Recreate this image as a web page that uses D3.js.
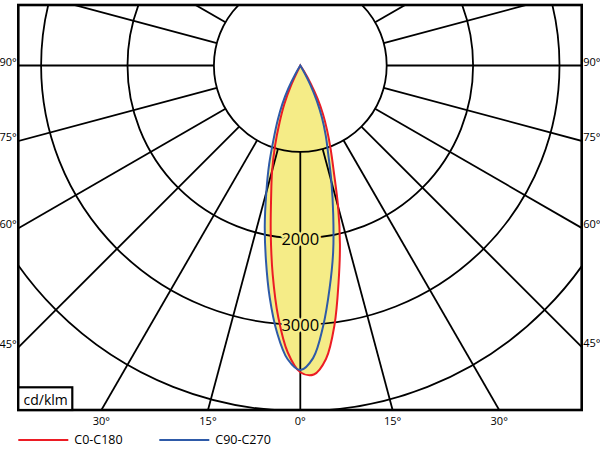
<!DOCTYPE html>
<html><head><meta charset="utf-8">
<script src="https://cdn.jsdelivr.net/npm/d3@7"></script>
<style>
body{margin:0;background:#fff}
svg{display:block}
text{font-family:'Open Sans',sans-serif;fill:#000}
</style>
</head><body>
<svg id="chart" width="600" height="450"></svg>
<script>
// ---- data (angle in degrees from nadir, intensity in cd/klm) ----
const redAngles  = [-27.5,-25,-22.5,-20,-17.5,-15,-12.5,-10,-7.5,-5,-2.5,0,2.5,5,7.5,10,12.5,15,17.5,20,22.5,25,27.5,30,32.5,35];
const redValues  = [0,250,480,700,970,1260,1560,1970,2445,2925,3325,3550,3580,3410,3030,2550,2120,1690,1290,1025,810,620,430,245,80,0];
const blueAngles = [-32.5,-30,-27.5,-25,-22.5,-20,-17.5,-15,-12.5,-10,-7.5,-5,-2.5,0,2.5,5,7.5,10,12.5,15,17.5,20,22.5,25,27.5,30,32.5];
const blueValues = [0,110,300,490,680,900,1200,1520,1900,2290,2710,3100,3400,3525,3390,3030,2600,2190,1760,1390,1075,860,656,455,255,60,0];
const ringValues = [1000,2000,3000,4000];
const ringLabelValues = [2000,3000];
const radialAngles = [0,15,30,45,60,75,90,105,120,135,150,165,180,195,210,225,240,255,270,285,300,315,330,345];
const sideTickAngles = [90,75,60,45];
const sideTickLabels = ["90°","75°","60°","45°"];
const bottomTickAngles = [-30,-15,0,15,30];
const bottomTickLabels = ["30°","15°","0°","15°","30°"];
const seriesNames = ["C0-C180","C90-C270"];
const seriesColors = ["#ec1c24","#2e5aa8"];
const unitLabel = "cd/klm";

// ---- layout ----
const svg = d3.select("#chart");
const box = {x0:18.3, y0:5, x1:581.7, y1:410};
const cx = 300.3, cy = 65.5;
const yellow = "#f5ec87";

const r = d3.scaleLinear().domain([0,1000]).range([0,86.4]);
const ang = d3.scaleLinear().domain([-180,180]).range([2*Math.PI,0]);

svg.append("defs").append("clipPath").attr("id","clip")
  .append("rect").attr("x",box.x0).attr("y",box.y0)
  .attr("width",box.x1-box.x0).attr("height",box.y1-box.y0);

const plot = svg.append("g").attr("clip-path","url(#clip)");
const g = plot.append("g").attr("transform",`translate(${cx},${cy})`);

const line = d3.lineRadial()
  .angle(d=>ang(d[0])).radius(d=>r(d[1]))
  .curve(d3.curveCatmullRom.alpha(0.5));

const series = [d3.zip(redAngles,redValues), d3.zip(blueAngles,blueValues)];

// fills
g.selectAll("path.fill").data(series).join("path")
  .attr("class","fill").attr("d",d=>line(d)+"Z")
  .attr("fill",yellow).attr("stroke","none");

// rings
g.selectAll("circle.ring").data(ringValues).join("circle")
  .attr("class","ring").attr("r",d=>r(d))
  .attr("fill","none").attr("stroke","#000").attr("stroke-width",1.8);

// radial lines
g.selectAll("line.rad").data(radialAngles).join("line")
  .attr("class","rad")
  .each(function(a){
    const p1 = d3.pointRadial(ang(a), r(1000));
    const p2 = d3.pointRadial(ang(a), r(7000));
    d3.select(this).attr("x1",p1[0]).attr("y1",p1[1]).attr("x2",p2[0]).attr("y2",p2[1]);
  })
  .attr("stroke","#000").attr("stroke-width",1.8);

// ring labels
g.selectAll("text.rl").data(ringLabelValues).join("text")
  .attr("class","rl")
  .attr("x",0).attr("y",d=>r(d))
  .attr("text-anchor","middle").attr("dominant-baseline","central")
  .attr("font-size",16.5)
  .attr("stroke",yellow).attr("stroke-width",5).attr("paint-order","stroke")
  .text(d=>d);

// curves
g.selectAll("path.curve").data(series).join("path")
  .attr("class","curve").attr("d",d=>line(d)+"Z")
  .attr("fill","none").attr("stroke",(d,i)=>seriesColors[i]).attr("stroke-width",2);

// frame
svg.append("rect").attr("x",box.x0).attr("y",box.y0)
  .attr("width",box.x1-box.x0).attr("height",box.y1-box.y0)
  .attr("fill","none").attr("stroke","#000").attr("stroke-width",2.6);

// side tick labels
sideTickAngles.forEach((a,i)=>{
  const t = a*Math.PI/180;
  const yl = cy + (cx-box.x0)/Math.sin(t)*Math.cos(t);
  const yr = cy + (box.x1-cx)/Math.sin(t)*Math.cos(t);
  svg.append("text").attr("x",box.x0-1.5).attr("y",yl).attr("text-anchor","end")
    .attr("font-size",11).text(sideTickLabels[i]);
  svg.append("text").attr("x",box.x1+1.5).attr("y",yr).attr("text-anchor","start")
    .attr("font-size",11).text(sideTickLabels[i]);
});

// bottom tick labels
bottomTickAngles.forEach((a,i)=>{
  const x = cx + Math.tan(a*Math.PI/180)*(box.y1-cy);
  svg.append("text").attr("x",x).attr("y",box.y1+15).attr("text-anchor","middle")
    .attr("font-size",11).text(bottomTickLabels[i]);
});

// unit box
svg.append("rect").attr("x",box.x0).attr("y",387.3).attr("width",54).attr("height",box.y1-387.3)
  .attr("fill","#fff").attr("stroke","#000").attr("stroke-width",2.2);
svg.append("text").attr("x",23.5).attr("y",405).attr("font-size",14).text(unitLabel);

// legend
const legX = [18.3,159.3];
seriesNames.forEach((n,i)=>{
  svg.append("line").attr("x1",legX[i]).attr("x2",legX[i]+50).attr("y1",440).attr("y2",440)
    .attr("stroke",seriesColors[i]).attr("stroke-width",2);
  svg.append("text").attr("x",legX[i]+56).attr("y",443.5).attr("font-size",12.5).text(n);
});
</script>
</body></html>
